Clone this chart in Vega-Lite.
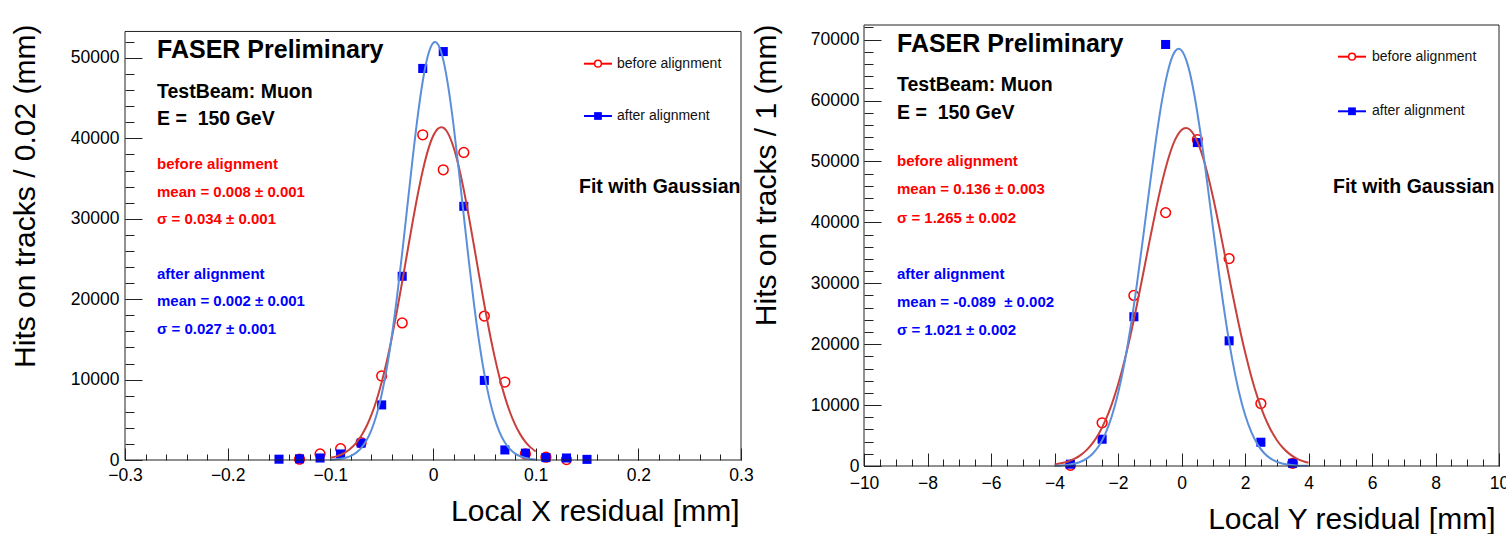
{
  "$schema": "https://vega.github.io/schema/vega-lite/v6.json",
  "background": "white",
  "padding": {"left": 10, "top": 23, "right": 0, "bottom": 0},
  "spacing": -3,
  "config": {
    "view": {"stroke": null},
    "font": "Liberation Sans",
    "axis": {
      "grid": false,
      "labelFont": "Liberation Sans",
      "labelFontSize": 17.5,
      "labelColor": "#000",
      "labelFlush": false,
      "labelOverlap": false,
      "tickColor": "#222",
      "tickWidth": 1,
      "domain": false,
      "titleFont": "Liberation Sans",
      "titleFontSize": 30,
      "titleFontWeight": "normal",
      "titleColor": "#000"
    }
  },
  "datasets": {
    "xpts": [
      {"series": "before", "x": -0.13, "y": 100},
      {"series": "before", "x": -0.11, "y": 750},
      {"series": "before", "x": -0.09, "y": 1400},
      {"series": "before", "x": -0.07, "y": 2150},
      {"series": "before", "x": -0.05, "y": 10450},
      {"series": "before", "x": -0.03, "y": 17050},
      {"series": "before", "x": -0.01, "y": 40450},
      {"series": "before", "x": 0.01, "y": 36100},
      {"series": "before", "x": 0.03, "y": 38250},
      {"series": "before", "x": 0.05, "y": 17900},
      {"series": "before", "x": 0.07, "y": 9700},
      {"series": "before", "x": 0.09, "y": 750},
      {"series": "before", "x": 0.11, "y": 350},
      {"series": "before", "x": 0.13, "y": 50},
      {"series": "after", "x": -0.15, "y": 100},
      {"series": "after", "x": -0.13, "y": 150},
      {"series": "after", "x": -0.11, "y": 250},
      {"series": "after", "x": -0.09, "y": 750},
      {"series": "after", "x": -0.07, "y": 2100},
      {"series": "after", "x": -0.05, "y": 6850},
      {"series": "after", "x": -0.03, "y": 22850},
      {"series": "after", "x": -0.01, "y": 48700},
      {"series": "after", "x": 0.01, "y": 50800},
      {"series": "after", "x": 0.03, "y": 31550},
      {"series": "after", "x": 0.05, "y": 9900},
      {"series": "after", "x": 0.07, "y": 1250},
      {"series": "after", "x": 0.09, "y": 850},
      {"series": "after", "x": 0.11, "y": 300},
      {"series": "after", "x": 0.13, "y": 250},
      {"series": "after", "x": 0.15, "y": 80}
    ],
    "xfit": [
      {"series": "before", "x": -0.1, "y": 267},
      {"series": "before", "x": -0.095, "y": 421},
      {"series": "before", "x": -0.09, "y": 650},
      {"series": "before", "x": -0.085, "y": 982},
      {"series": "before", "x": -0.08, "y": 1454},
      {"series": "before", "x": -0.075, "y": 2103},
      {"series": "before", "x": -0.07, "y": 2978},
      {"series": "before", "x": -0.065, "y": 4130},
      {"series": "before", "x": -0.06, "y": 5603},
      {"series": "before", "x": -0.055, "y": 7436},
      {"series": "before", "x": -0.05, "y": 9663},
      {"series": "before", "x": -0.045, "y": 12284},
      {"series": "before", "x": -0.04, "y": 15282},
      {"series": "before", "x": -0.035, "y": 18607},
      {"series": "before", "x": -0.03, "y": 22169},
      {"series": "before", "x": -0.025, "y": 25849},
      {"series": "before", "x": -0.02, "y": 29494},
      {"series": "before", "x": -0.015, "y": 32932},
      {"series": "before", "x": -0.01, "y": 35987},
      {"series": "before", "x": -0.005, "y": 38481},
      {"series": "before", "x": 0, "y": 40270},
      {"series": "before", "x": 0.005, "y": 41239},
      {"series": "before", "x": 0.008, "y": 41400},
      {"series": "before", "x": 0.01, "y": 41328},
      {"series": "before", "x": 0.015, "y": 40531},
      {"series": "before", "x": 0.02, "y": 38900},
      {"series": "before", "x": 0.025, "y": 36535},
      {"series": "before", "x": 0.03, "y": 33581},
      {"series": "before", "x": 0.035, "y": 30205},
      {"series": "before", "x": 0.04, "y": 26587},
      {"series": "before", "x": 0.045, "y": 22900},
      {"series": "before", "x": 0.05, "y": 19304},
      {"series": "before", "x": 0.055, "y": 15922},
      {"series": "before", "x": 0.06, "y": 12854},
      {"series": "before", "x": 0.065, "y": 10155},
      {"series": "before", "x": 0.07, "y": 7852},
      {"series": "before", "x": 0.075, "y": 5940},
      {"series": "before", "x": 0.08, "y": 4397},
      {"series": "before", "x": 0.085, "y": 3186},
      {"series": "before", "x": 0.09, "y": 2260},
      {"series": "before", "x": 0.095, "y": 1568},
      {"series": "before", "x": 0.1, "y": 1064},
      {"series": "after", "x": -0.1, "y": 41},
      {"series": "after", "x": -0.095, "y": 82},
      {"series": "after", "x": -0.09, "y": 157},
      {"series": "after", "x": -0.085, "y": 289},
      {"series": "after", "x": -0.08, "y": 516},
      {"series": "after", "x": -0.075, "y": 891},
      {"series": "after", "x": -0.07, "y": 1485},
      {"series": "after", "x": -0.065, "y": 2392},
      {"series": "after", "x": -0.06, "y": 3725},
      {"series": "after", "x": -0.055, "y": 5603},
      {"series": "after", "x": -0.05, "y": 8139},
      {"series": "after", "x": -0.045, "y": 11430},
      {"series": "after", "x": -0.04, "y": 15508},
      {"series": "after", "x": -0.035, "y": 20336},
      {"series": "after", "x": -0.03, "y": 25763},
      {"series": "after", "x": -0.025, "y": 31540},
      {"series": "after", "x": -0.02, "y": 37310},
      {"series": "after", "x": -0.015, "y": 42650},
      {"series": "after", "x": -0.01, "y": 47109},
      {"series": "after", "x": -0.005, "y": 50281},
      {"series": "after", "x": 0, "y": 51858},
      {"series": "after", "x": 0.002, "y": 52000},
      {"series": "after", "x": 0.005, "y": 51680},
      {"series": "after", "x": 0.01, "y": 49767},
      {"series": "after", "x": 0.015, "y": 46309},
      {"series": "after", "x": 0.02, "y": 41638},
      {"series": "after", "x": 0.025, "y": 36178},
      {"series": "after", "x": 0.03, "y": 30372},
      {"series": "after", "x": 0.035, "y": 24640},
      {"series": "after", "x": 0.04, "y": 19313},
      {"series": "after", "x": 0.045, "y": 14630},
      {"series": "after", "x": 0.05, "y": 10708},
      {"series": "after", "x": 0.055, "y": 7573},
      {"series": "after", "x": 0.06, "y": 5176},
      {"series": "after", "x": 0.065, "y": 3418},
      {"series": "after", "x": 0.07, "y": 2181},
      {"series": "after", "x": 0.075, "y": 1345},
      {"series": "after", "x": 0.08, "y": 801},
      {"series": "after", "x": 0.085, "y": 461},
      {"series": "after", "x": 0.09, "y": 257},
      {"series": "after", "x": 0.095, "y": 138},
      {"series": "after", "x": 0.1, "y": 72}
    ],
    "ypts": [
      {"series": "before", "x": -3.5, "y": 100},
      {"series": "before", "x": -2.5, "y": 7100},
      {"series": "before", "x": -1.5, "y": 28000},
      {"series": "before", "x": -0.5, "y": 41600},
      {"series": "before", "x": 0.5, "y": 53600},
      {"series": "before", "x": 1.5, "y": 34050},
      {"series": "before", "x": 2.5, "y": 10250},
      {"series": "before", "x": 3.5, "y": 450},
      {"series": "after", "x": -3.5, "y": 300},
      {"series": "after", "x": -2.5, "y": 4400},
      {"series": "after", "x": -1.5, "y": 24500},
      {"series": "after", "x": -0.5, "y": 69200},
      {"series": "after", "x": 0.5, "y": 53100},
      {"series": "after", "x": 1.5, "y": 20550},
      {"series": "after", "x": 2.5, "y": 3900},
      {"series": "after", "x": 3.5, "y": 450}
    ],
    "yfit": [
      {"series": "before", "x": -4.0, "y": 265},
      {"series": "before", "x": -3.8, "y": 439},
      {"series": "before", "x": -3.6, "y": 708},
      {"series": "before", "x": -3.4, "y": 1116},
      {"series": "before", "x": -3.2, "y": 1714},
      {"series": "before", "x": -3.0, "y": 2569},
      {"series": "before", "x": -2.8, "y": 3754},
      {"series": "before", "x": -2.6, "y": 5352},
      {"series": "before", "x": -2.4, "y": 7441},
      {"series": "before", "x": -2.2, "y": 10089},
      {"series": "before", "x": -2.0, "y": 13342},
      {"series": "before", "x": -1.8, "y": 17207},
      {"series": "before", "x": -1.6, "y": 21644},
      {"series": "before", "x": -1.4, "y": 26554},
      {"series": "before", "x": -1.2, "y": 31776},
      {"series": "before", "x": -1.0, "y": 37082},
      {"series": "before", "x": -0.8, "y": 42210},
      {"series": "before", "x": -0.6, "y": 46856},
      {"series": "before", "x": -0.4, "y": 50735},
      {"series": "before", "x": -0.2, "y": 53576},
      {"series": "before", "x": 0.0, "y": 55180},
      {"series": "before", "x": 0.136, "y": 55500},
      {"series": "before", "x": 0.2, "y": 55429},
      {"series": "before", "x": 0.4, "y": 54305},
      {"series": "before", "x": 0.6, "y": 51889},
      {"series": "before", "x": 0.8, "y": 48357},
      {"series": "before", "x": 1.0, "y": 43955},
      {"series": "before", "x": 1.2, "y": 38963},
      {"series": "before", "x": 1.4, "y": 33690},
      {"series": "before", "x": 1.6, "y": 28408},
      {"series": "before", "x": 1.8, "y": 23363},
      {"series": "before", "x": 2.0, "y": 18743},
      {"series": "before", "x": 2.2, "y": 14664},
      {"series": "before", "x": 2.4, "y": 11189},
      {"series": "before", "x": 2.6, "y": 8327},
      {"series": "before", "x": 2.8, "y": 6043},
      {"series": "before", "x": 3.0, "y": 4277},
      {"series": "before", "x": 3.2, "y": 2954},
      {"series": "before", "x": 3.4, "y": 1990},
      {"series": "before", "x": 3.6, "y": 1306},
      {"series": "before", "x": 3.8, "y": 837},
      {"series": "before", "x": 4.0, "y": 523},
      {"series": "after", "x": -4.0, "y": 45},
      {"series": "after", "x": -3.8, "y": 93},
      {"series": "after", "x": -3.6, "y": 185},
      {"series": "after", "x": -3.4, "y": 356},
      {"series": "after", "x": -3.2, "y": 660},
      {"series": "after", "x": -3.0, "y": 1176},
      {"series": "after", "x": -2.8, "y": 2017},
      {"series": "after", "x": -2.6, "y": 3328},
      {"series": "after", "x": -2.4, "y": 5285},
      {"series": "after", "x": -2.2, "y": 8078},
      {"series": "after", "x": -2.0, "y": 11885},
      {"series": "after", "x": -1.8, "y": 16821},
      {"series": "after", "x": -1.6, "y": 22915},
      {"series": "after", "x": -1.4, "y": 30039},
      {"series": "after", "x": -1.2, "y": 37891},
      {"series": "after", "x": -1.0, "y": 46003},
      {"series": "after", "x": -0.8, "y": 53749},
      {"series": "after", "x": -0.6, "y": 60436},
      {"series": "after", "x": -0.4, "y": 65395},
      {"series": "after", "x": -0.2, "y": 68097},
      {"series": "after", "x": -0.089, "y": 68500},
      {"series": "after", "x": 0.0, "y": 68240},
      {"series": "after", "x": 0.2, "y": 65809},
      {"series": "after", "x": 0.4, "y": 61078},
      {"series": "after", "x": 0.6, "y": 54552},
      {"series": "after", "x": 0.8, "y": 46888},
      {"series": "after", "x": 1.0, "y": 38783},
      {"series": "after", "x": 1.2, "y": 30872},
      {"series": "after", "x": 1.4, "y": 23650},
      {"series": "after", "x": 1.6, "y": 17434},
      {"series": "after", "x": 1.8, "y": 12370},
      {"series": "after", "x": 2.0, "y": 8445},
      {"series": "after", "x": 2.2, "y": 5549},
      {"series": "after", "x": 2.4, "y": 3510},
      {"series": "after", "x": 2.6, "y": 2136},
      {"series": "after", "x": 2.8, "y": 1251},
      {"series": "after", "x": 3.0, "y": 705},
      {"series": "after", "x": 3.2, "y": 382},
      {"series": "after", "x": 3.4, "y": 199},
      {"series": "after", "x": 3.6, "y": 100},
      {"series": "after", "x": 3.8, "y": 48},
      {"series": "after", "x": 4.0, "y": 23}
    ]
  },
  "hconcat": [
    {
      "width": 616,
      "height": 435,
      "resolve": {"axis": {"x": "independent", "y": "independent"}},
      "layer": [
        {
          "data": {"name": "xpts"},
          "transform": [{"filter": "datum.series === 'before'"}],
          "mark": {"type": "point", "shape": "circle", "filled": false, "stroke": "#ff0000", "strokeWidth": 1.5, "size": 95, "opacity": 1},
          "encoding": {
            "x": {"field": "x", "type": "quantitative",
              "scale": {"domain": [-0.3, 0.3], "nice": false, "zero": false},
              "axis": {"orient": "bottom", "values": [-0.3, -0.2, -0.1, 0, 0.1, 0.2, 0.3], "format": "~g", "tickSize": -12, "labelPadding": 18,
                "title": "Local X residual [mm]", "titleX": 614, "titleY": 60, "titleAlign": "right", "titleBaseline": "alphabetic", "titleAnchor": null}},
            "y": {"field": "y", "type": "quantitative",
              "scale": {"domain": [0, 54104], "nice": false, "zero": true},
              "axis": {"orient": "left", "values": [0, 10000, 20000, 30000, 40000, 50000], "format": "d", "tickSize": -17, "labelPadding": 23,
                "title": "Hits on tracks / 0.02 (mm)", "titleX": -90.5, "titleY": -1, "titleAngle": -90, "titleAlign": "right", "titleBaseline": "alphabetic", "titleAnchor": null}}
          }
        },
        {
          "data": {"name": "xpts"},
          "transform": [{"filter": "datum.series === 'after'"}],
          "mark": {"type": "point", "shape": "square", "filled": true, "color": "#0000ff", "size": 82, "opacity": 1},
          "encoding": {
            "x": {"field": "x", "type": "quantitative", "axis": null},
            "y": {"field": "y", "type": "quantitative", "axis": null}
          }
        },
        {
          "data": {"name": "xfit"},
          "mark": {"type": "line", "strokeWidth": 2, "interpolate": "monotone"},
          "encoding": {
            "x": {"field": "x", "type": "quantitative",
              "axis": {"orient": "bottom", "values": [-0.3, -0.28, -0.26, -0.24, -0.22, -0.2, -0.18, -0.16, -0.14, -0.12, -0.1, -0.08, -0.06, -0.04, -0.02, 0, 0.02, 0.04, 0.06, 0.08, 0.1, 0.12, 0.14, 0.16, 0.18, 0.2, 0.22, 0.24, 0.26, 0.28, 0.3], "labels": false, "tickSize": -6, "title": null}},
            "y": {"field": "y", "type": "quantitative",
              "axis": {"orient": "left", "values": [0, 2000, 4000, 6000, 8000, 10000, 12000, 14000, 16000, 18000, 20000, 22000, 24000, 26000, 28000, 30000, 32000, 34000, 36000, 38000, 40000, 42000, 44000, 46000, 48000, 50000, 52000], "labels": false, "tickSize": -9, "title": null}},
            "color": {"field": "series", "type": "nominal", "scale": {"domain": ["before", "after"], "range": ["#c8403c", "#5b8fd9"]}, "legend": null}
          }
        },
        {
          "data": {"values": [{}]},
          "mark": {"type": "rect", "fill": null, "stroke": "#222", "strokeWidth": 1},
          "encoding": {
            "x": {"datum": -0.3, "type": "quantitative", "axis": null},
            "x2": {"datum": 0.3},
            "y": {"datum": 0, "type": "quantitative", "axis": null},
            "y2": {"datum": 53300}
          }
        },
        {
          "data": {"values": [{}]},
          "mark": {"type": "text", "align": "left", "baseline": "middle", "fontWeight": "bold", "fontSize": 25, "color": "#000"},
          "encoding": {"x": {"datum": -0.2688, "type": "quantitative", "axis": null}, "y": {"datum": 51032, "type": "quantitative", "axis": null}, "text": {"value": "FASER Preliminary"}}
        },
        {
          "data": {"values": [{}]},
          "mark": {"type": "text", "align": "left", "baseline": "middle", "fontWeight": "bold", "fontSize": 19.5, "lineHeight": 27, "color": "#000"},
          "encoding": {"x": {"datum": -0.2688, "type": "quantitative", "axis": null}, "y": {"datum": 45808, "type": "quantitative", "axis": null}, "text": {"value": ["TestBeam: Muon", "E =\u00a0 150 GeV"]}}
        },
        {
          "data": {"values": [{}]},
          "mark": {"type": "text", "align": "left", "baseline": "middle", "fontWeight": "bold", "fontSize": 15, "lineHeight": 27.5, "color": "#ff0000"},
          "encoding": {"x": {"datum": -0.2688, "type": "quantitative", "axis": null}, "y": {"datum": 36779, "type": "quantitative", "axis": null}, "text": {"value": ["before alignment", "mean = 0.008 \u00b1 0.001", "\u03c3 = 0.034 \u00b1 0.001"]}}
        },
        {
          "data": {"values": [{}]},
          "mark": {"type": "text", "align": "left", "baseline": "middle", "fontWeight": "bold", "fontSize": 15, "lineHeight": 27.8, "color": "#0000ff"},
          "encoding": {"x": {"datum": -0.2688, "type": "quantitative", "axis": null}, "y": {"datum": 23172, "type": "quantitative", "axis": null}, "text": {"value": ["after alignment", "mean = 0.002 \u00b1 0.001", "\u03c3 = 0.027 \u00b1 0.001"]}}
        },
        {
          "data": {"values": [{}]},
          "mark": {"type": "text", "align": "left", "baseline": "middle", "fontWeight": "bold", "fontSize": 19.5, "color": "#000"},
          "encoding": {"x": {"datum": 0.1422, "type": "quantitative", "axis": null}, "y": {"datum": 33955, "type": "quantitative", "axis": null}, "text": {"value": "Fit with Gaussian"}}
        },
        {
          "data": {"values": [{}]},
          "mark": {"type": "rule", "color": "#ff0000", "strokeWidth": 2},
          "encoding": {"x": {"datum": 0.1471, "type": "quantitative", "axis": null}, "x2": {"datum": 0.1743}, "y": {"datum": 49291, "type": "quantitative", "axis": null}}
        },
        {
          "data": {"values": [{}]},
          "mark": {"type": "point", "shape": "circle", "filled": true, "fill": "white", "stroke": "#ff0000", "strokeWidth": 1.5, "size": 45, "opacity": 1},
          "encoding": {"x": {"datum": 0.1607, "type": "quantitative", "axis": null}, "y": {"datum": 49291, "type": "quantitative", "axis": null}}
        },
        {
          "data": {"values": [{}]},
          "mark": {"type": "text", "align": "left", "baseline": "middle", "fontSize": 14, "color": "#111"},
          "encoding": {"x": {"datum": 0.1792, "type": "quantitative", "axis": null}, "y": {"datum": 49291, "type": "quantitative", "axis": null}, "text": {"value": "before alignment"}}
        },
        {
          "data": {"values": [{}]},
          "mark": {"type": "rule", "color": "#0000ff", "strokeWidth": 2},
          "encoding": {"x": {"datum": 0.1471, "type": "quantitative", "axis": null}, "x2": {"datum": 0.1743}, "y": {"datum": 42786, "type": "quantitative", "axis": null}}
        },
        {
          "data": {"values": [{}]},
          "mark": {"type": "point", "shape": "square", "filled": true, "color": "#0000ff", "size": 60, "opacity": 1},
          "encoding": {"x": {"datum": 0.1607, "type": "quantitative", "axis": null}, "y": {"datum": 42786, "type": "quantitative", "axis": null}}
        },
        {
          "data": {"values": [{}]},
          "mark": {"type": "text", "align": "left", "baseline": "middle", "fontSize": 14, "color": "#111"},
          "encoding": {"x": {"datum": 0.1792, "type": "quantitative", "axis": null}, "y": {"datum": 42786, "type": "quantitative", "axis": null}, "text": {"value": "after alignment"}}
        }
      ]
    },
    {
      "width": 635,
      "height": 441,
      "resolve": {"axis": {"x": "independent", "y": "independent"}},
      "layer": [
        {
          "data": {"name": "ypts"},
          "transform": [{"filter": "datum.series === 'before'"}],
          "mark": {"type": "point", "shape": "circle", "filled": false, "stroke": "#ff0000", "strokeWidth": 1.5, "size": 95, "opacity": 1},
          "encoding": {
            "x": {"field": "x", "type": "quantitative",
              "scale": {"domain": [-10, 10], "nice": false, "zero": false},
              "axis": {"orient": "bottom", "values": [-10, -8, -6, -4, -2, 0, 2, 4, 6, 8, 10], "format": "d", "tickSize": -13, "labelPadding": 21,
                "title": "Local Y residual [mm]", "titleX": 631, "titleY": 62, "titleAlign": "right", "titleBaseline": "alphabetic", "titleAnchor": null}},
            "y": {"field": "y", "type": "quantitative",
              "scale": {"domain": [0, 72400], "nice": false, "zero": true},
              "axis": {"orient": "left", "values": [0, 10000, 20000, 30000, 40000, 50000, 60000, 70000], "format": "d", "tickSize": -17, "labelPadding": 22,
                "title": "Hits on tracks / 1 (mm)", "titleX": -88.7, "titleY": -1, "titleAngle": -90, "titleAlign": "right", "titleBaseline": "alphabetic", "titleAnchor": null}}
          }
        },
        {
          "data": {"name": "ypts"},
          "transform": [{"filter": "datum.series === 'after'"}],
          "mark": {"type": "point", "shape": "square", "filled": true, "color": "#0000ff", "size": 82, "opacity": 1},
          "encoding": {
            "x": {"field": "x", "type": "quantitative", "axis": null},
            "y": {"field": "y", "type": "quantitative", "axis": null}
          }
        },
        {
          "data": {"name": "yfit"},
          "mark": {"type": "line", "strokeWidth": 2, "interpolate": "monotone"},
          "encoding": {
            "x": {"field": "x", "type": "quantitative",
              "axis": {"orient": "bottom", "values": [-10, -9.5, -9, -8.5, -8, -7.5, -7, -6.5, -6, -5.5, -5, -4.5, -4, -3.5, -3, -2.5, -2, -1.5, -1, -0.5, 0, 0.5, 1, 1.5, 2, 2.5, 3, 3.5, 4, 4.5, 5, 5.5, 6, 6.5, 7, 7.5, 8, 8.5, 9, 9.5, 10], "labels": false, "tickSize": -7, "title": null}},
            "y": {"field": "y", "type": "quantitative",
              "axis": {"orient": "left", "values": [0, 2000, 4000, 6000, 8000, 10000, 12000, 14000, 16000, 18000, 20000, 22000, 24000, 26000, 28000, 30000, 32000, 34000, 36000, 38000, 40000, 42000, 44000, 46000, 48000, 50000, 52000, 54000, 56000, 58000, 60000, 62000, 64000, 66000, 68000, 70000, 72000], "labels": false, "tickSize": -9, "title": null}},
            "color": {"field": "series", "type": "nominal", "scale": {"domain": ["before", "after"], "range": ["#c8403c", "#5b8fd9"]}, "legend": null}
          }
        },
        {
          "data": {"values": [{}]},
          "mark": {"type": "rect", "fill": null, "stroke": "#222", "strokeWidth": 1},
          "encoding": {
            "x": {"datum": -10, "type": "quantitative", "axis": null},
            "x2": {"datum": 10},
            "y": {"datum": 0, "type": "quantitative", "axis": null},
            "y2": {"datum": 72400}
          }
        },
        {
          "data": {"values": [{}]},
          "mark": {"type": "text", "align": "left", "baseline": "middle", "fontWeight": "bold", "fontSize": 25, "color": "#000"},
          "encoding": {"x": {"datum": -8.961, "type": "quantitative", "axis": null}, "y": {"datum": 69233, "type": "quantitative", "axis": null}, "text": {"value": "FASER Preliminary"}}
        },
        {
          "data": {"values": [{}]},
          "mark": {"type": "text", "align": "left", "baseline": "middle", "fontWeight": "bold", "fontSize": 19.5, "lineHeight": 28.5, "color": "#000"},
          "encoding": {"x": {"datum": -8.961, "type": "quantitative", "axis": null}, "y": {"datum": 62551, "type": "quantitative", "axis": null}, "text": {"value": ["TestBeam: Muon", "E =\u00a0 150 GeV"]}}
        },
        {
          "data": {"values": [{}]},
          "mark": {"type": "text", "align": "left", "baseline": "middle", "fontWeight": "bold", "fontSize": 15, "lineHeight": 28.3, "color": "#ff0000"},
          "encoding": {"x": {"datum": -8.961, "type": "quantitative", "axis": null}, "y": {"datum": 50074, "type": "quantitative", "axis": null}, "text": {"value": ["before alignment", "mean = 0.136 \u00b1 0.003", "\u03c3 = 1.265 \u00b1 0.002"]}}
        },
        {
          "data": {"values": [{}]},
          "mark": {"type": "text", "align": "left", "baseline": "middle", "fontWeight": "bold", "fontSize": 15, "lineHeight": 28, "color": "#0000ff"},
          "encoding": {"x": {"datum": -8.961, "type": "quantitative", "axis": null}, "y": {"datum": 31473, "type": "quantitative", "axis": null}, "text": {"value": ["after alignment", "mean = -0.089\u00a0 \u00b1 0.002", "\u03c3 = 1.021 \u00b1 0.002"]}}
        },
        {
          "data": {"values": [{}]},
          "mark": {"type": "text", "align": "left", "baseline": "middle", "fontWeight": "bold", "fontSize": 19.5, "color": "#000"},
          "encoding": {"x": {"datum": 4.772, "type": "quantitative", "axis": null}, "y": {"datum": 45855, "type": "quantitative", "axis": null}, "text": {"value": "Fit with Gaussian"}}
        },
        {
          "data": {"values": [{}]},
          "mark": {"type": "rule", "color": "#ff0000", "strokeWidth": 2},
          "encoding": {"x": {"datum": 4.929, "type": "quantitative", "axis": null}, "x2": {"datum": 5.811}, "y": {"datum": 67198, "type": "quantitative", "axis": null}}
        },
        {
          "data": {"values": [{}]},
          "mark": {"type": "point", "shape": "circle", "filled": true, "fill": "white", "stroke": "#ff0000", "strokeWidth": 1.5, "size": 45, "opacity": 1},
          "encoding": {"x": {"datum": 5.37, "type": "quantitative", "axis": null}, "y": {"datum": 67198, "type": "quantitative", "axis": null}}
        },
        {
          "data": {"values": [{}]},
          "mark": {"type": "text", "align": "left", "baseline": "middle", "fontSize": 14, "color": "#111"},
          "encoding": {"x": {"datum": 6.0, "type": "quantitative", "axis": null}, "y": {"datum": 67198, "type": "quantitative", "axis": null}, "text": {"value": "before alignment"}}
        },
        {
          "data": {"values": [{}]},
          "mark": {"type": "rule", "color": "#0000ff", "strokeWidth": 2},
          "encoding": {"x": {"datum": 4.929, "type": "quantitative", "axis": null}, "x2": {"datum": 5.811}, "y": {"datum": 58234, "type": "quantitative", "axis": null}}
        },
        {
          "data": {"values": [{}]},
          "mark": {"type": "point", "shape": "square", "filled": true, "color": "#0000ff", "size": 60, "opacity": 1},
          "encoding": {"x": {"datum": 5.37, "type": "quantitative", "axis": null}, "y": {"datum": 58234, "type": "quantitative", "axis": null}}
        },
        {
          "data": {"values": [{}]},
          "mark": {"type": "text", "align": "left", "baseline": "middle", "fontSize": 14, "color": "#111"},
          "encoding": {"x": {"datum": 6.0, "type": "quantitative", "axis": null}, "y": {"datum": 58234, "type": "quantitative", "axis": null}, "text": {"value": "after alignment"}}
        }
      ]
    }
  ]
}
